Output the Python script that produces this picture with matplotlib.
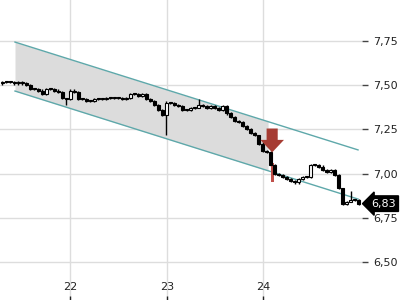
import numpy as np
import matplotlib
matplotlib.use("Agg")
import matplotlib.pyplot as plt
from matplotlib.ticker import FuncFormatter
from matplotlib.transforms import blended_transform_factory

# ---- data ----
start_day = 21.30          # time of first candle (day of month)
step_day = 0.0414          # candle spacing (days)
first_open = 7.51
closes = [7.52, 7.52, 7.52, 7.51, 7.52, 7.51, 7.50, 7.48, 7.48, 7.47,
          7.45, 7.48, 7.48, 7.47, 7.46, 7.43, 7.42, 7.47, 7.46, 7.42,
          7.42, 7.41, 7.41, 7.42, 7.42, 7.42, 7.43, 7.43, 7.43, 7.43,
          7.42, 7.43, 7.45, 7.45, 7.44, 7.45, 7.42, 7.41, 7.39, 7.36,
          7.33, 7.40, 7.40, 7.39, 7.38, 7.36, 7.36, 7.37, 7.37, 7.39,
          7.38, 7.37, 7.38, 7.37, 7.36, 7.38, 7.34, 7.32, 7.30, 7.29,
          7.27, 7.25, 7.23, 7.22, 7.17, 7.13, 7.12, 7.05, 7.00, 6.99,
          6.98, 6.97, 6.96, 6.95, 6.97, 6.98, 6.98, 7.05, 7.05, 7.04,
          7.02, 7.01, 7.02, 6.99, 6.92, 6.83, 6.84, 6.85, 6.85, 6.83]
# notable wicks: index -> (low, high)
special_wicks = {16: (7.39, 7.42), 41: (7.22, 7.41), 49: (7.37, 7.42),
                 64: (7.16, 7.20), 87: (6.84, 6.90), 85: (6.82, 6.86)}

channel_x = [21.431, 24.978]
channel_upper = [7.744, 7.134]
channel_lower = [7.467, 6.856]
channel_fill_end = 24.048

signal_x = 24.09
signal_top = 7.255
signal_tip = 7.12
signal_bar = (7.06, 6.955)

last_price = 6.83
x_ticks = [22, 23, 24]
y_ticks = [6.50, 6.75, 7.00, 7.25, 7.50, 7.75]

# ---- figure ----
fig = plt.figure(figsize=(4, 3), dpi=100)
ax = fig.add_axes([0, 0, 362 / 400, 1])
ax.set_xlim(21.276, 25.019)
ax.set_ylim(6.285, 7.982)

for s in ax.spines.values():
    s.set_visible(False)
ax.grid(True, color="#dddddd", linewidth=1)
ax.set_axisbelow(True)

# channel
t = np.linspace(channel_x[0], channel_fill_end, 50)
up_i = np.interp(t, channel_x, channel_upper)
lo_i = np.interp(t, channel_x, channel_lower)
ax.fill_between(t, lo_i, up_i, color="#dcdcdc", zorder=1, linewidth=0)
ax.plot(channel_x, channel_upper, color="#5ea8aa", lw=1, zorder=2)
ax.plot(channel_x, channel_lower, color="#5ea8aa", lw=1, zorder=2)

# candles
wick = 0.006
width = 0.028
opens = [first_open] + closes[:-1]
xs = start_day + step_day * np.arange(len(closes))
for i, (x, o, c) in enumerate(zip(xs, opens, closes)):
    lo = min(o, c) - wick
    hi = max(o, c) + wick
    if i in special_wicks:
        lo, hi = special_wicks[i]
    ax.vlines(x, lo, hi, color="black", lw=1, zorder=3)
    body = max(abs(c - o), 0.005)
    bottom = min(o, c)
    fc = "white" if c > o else "black"
    ax.bar(x, body, width=width, bottom=bottom, color=fc, edgecolor="black",
           linewidth=0.8, zorder=4)

# signal
ax.bar(signal_x, signal_bar[0] - signal_bar[1], width=0.028, bottom=signal_bar[1],
       color="#c0504a", zorder=3.5, linewidth=0)
ax.annotate("", xy=(signal_x, signal_tip), xytext=(signal_x, signal_top),
            arrowprops=dict(arrowstyle="simple,head_width=1.7,head_length=0.9,tail_width=0.8",
                            color="#a63c33", lw=0, shrinkA=0, shrinkB=0), zorder=5)

# axes ticks
ax.yaxis.tick_right()
ax.set_yticks(y_ticks)
ax.yaxis.set_major_formatter(FuncFormatter(lambda v, p: f"{v:.2f}".replace(".", ",")))
ax.tick_params(axis="y", length=4, width=1, color="#444444", labelsize=8,
               labelcolor="#222222", pad=4)
ax.set_xticks(x_ticks)
ax.tick_params(axis="x", direction="in", length=3, width=1, color="#222222",
               labelsize=8, labelcolor="#222222", pad=-13)

# last price tag
trans = blended_transform_factory(ax.transAxes, ax.transData)
ax.text(1.025, last_price, f"{last_price:.2f}".replace(".", ","), transform=trans,
        ha="left", va="center", color="white", fontsize=8, zorder=10,
        bbox=dict(boxstyle="larrow,pad=0.25", fc="black", ec="black"), clip_on=False)

fig.savefig("out.png", dpi=100)
